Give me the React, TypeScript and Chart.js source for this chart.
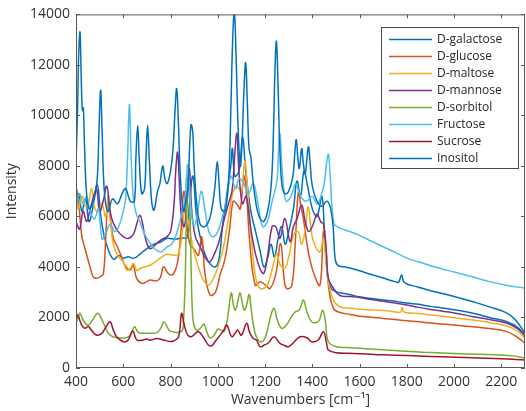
import { useEffect, useRef } from "react";
import { Chart, registerables } from "chart.js";

Chart.register(...registerables);

const seriesNames = ["D-galactose", "D-glucose", "D-maltose", "D-mannose", "D-sorbitol", "Fructose", "Sucrose", "Inositol"];
const seriesColors = ["#0072BD", "#D95319", "#EDB120", "#7E2F8E", "#77AC30", "#4DBEEE", "#A2142F", "#0072BD"];
const xTicks = [400, 600, 800, 1000, 1200, 1400, 1600, 1800, 2000, 2200];
const yTicks = [0, 2000, 4000, 6000, 8000, 10000, 12000, 14000];
const xTitle = "Wavenumbers [cm\u207B\u00B9]";
const yTitle = "Intensity";

type P = [number, number];

const galactose: P[] = [[400,6300],[412,6900],[425,6200],[440,6700],[455,5800],[470,6300],[490,7250],[505,6000],[520,5200],[540,4600],[560,4300],[580,4450],[600,4350],[620,4400],[645,4350],[670,4500],[700,4730],[730,4900],[760,5000],[784,5130],[820,5100],[850,5150],[870,5150],[880,6500],[895,7600],[910,6000],[930,5000],[950,4400],[970,4100],[990,4000],[1005,4300],[1020,5600],[1040,7000],[1055,8000],[1062,8690],[1072,7600],[1090,7800],[1105,9170],[1118,7800],[1140,6200],[1160,5400],[1180,4600],[1195,4000],[1210,4300],[1225,4900],[1240,4400],[1255,5100],[1270,5600],[1285,4900],[1300,5400],[1320,6300],[1335,7400],[1350,6800],[1365,7800],[1380,7200],[1400,6300],[1420,6000],[1440,6800],[1452,5300],[1465,3600],[1480,3150],[1500,3020],[1517,2980],[1560,2900],[1600,2820],[1650,2750],[1700,2690],[1750,2640],[1800,2570],[1850,2520],[1900,2440],[1950,2380],[2000,2310],[2080,2170],[2150,2000],[2224,1830],[2270,1600],[2300,1300]];

const glucose: P[] = [[400,7200],[410,6700],[424,5260],[438,4730],[459,4010],[473,3610],[488,3550],[502,3610],[516,3740],[526,5200],[535,6600],[545,5900],[558,5130],[572,4860],[593,4400],[607,4070],[629,3870],[642,4070],[657,3550],[678,3350],[700,3420],[713,3480],[742,3450],[758,3600],[770,4010],[791,3740],[810,3700],[830,4200],[845,5500],[856,7000],[868,5800],[882,4900],[900,4700],[918,4470],[932,5200],[945,3800],[967,2890],[990,3000],[1010,3700],[1030,4300],[1050,5500],[1065,6600],[1080,6500],[1095,6300],[1110,7600],[1122,6800],[1135,5000],[1158,3280],[1179,3410],[1200,3300],[1221,3150],[1245,3700],[1266,4930],[1280,3600],[1291,3150],[1313,3250],[1328,5000],[1341,6970],[1352,6400],[1362,5920],[1383,4600],[1404,3810],[1432,3280],[1447,5390],[1458,4700],[1468,3280],[1489,2360],[1517,2200],[1560,2120],[1600,2050],[1650,2010],[1700,1960],[1750,1920],[1800,1870],[1850,1830],[1900,1780],[1950,1740],[2000,1700],[2080,1630],[2150,1560],[2224,1440],[2270,1200],[2300,990]];

const maltose: P[] = [[400,6600],[410,6300],[425,6800],[440,6400],[452,6500],[466,7100],[480,6300],[494,6200],[510,6500],[525,6000],[537,6840],[548,5600],[558,4900],[579,4400],[600,4200],[614,3870],[630,3950],[643,4140],[658,3850],[671,3940],[690,4000],[713,4070],[735,4200],[755,4340],[784,4500],[810,4470],[832,4500],[850,5400],[862,6400],[875,5800],[890,5000],[905,4400],[918,4000],[935,3550],[960,3280],[988,3680],[1016,4470],[1040,5600],[1060,6800],[1080,7200],[1100,7000],[1108,7700],[1115,8200],[1122,7600],[1130,6600],[1143,5000],[1160,3600],[1179,3150],[1207,3250],[1230,3900],[1249,4530],[1263,4100],[1284,3940],[1300,4400],[1320,5260],[1340,5400],[1355,4900],[1370,5500],[1383,6380],[1397,5300],[1411,4860],[1432,4600],[1447,5130],[1458,4200],[1468,3410],[1489,2690],[1517,2425],[1560,2370],[1600,2330],[1650,2300],[1700,2280],[1740,2240],[1772,2210],[1780,2400],[1788,2220],[1850,2160],[1900,2100],[1950,2050],[2000,1990],[2080,1900],[2150,1800],[2224,1660],[2270,1450],[2300,1190]];

const mannose: P[] = [[400,5800],[415,5500],[430,6200],[445,5800],[460,6300],[475,6800],[487,7100],[500,6200],[515,6600],[530,7200],[542,6400],[551,5920],[565,5600],[579,5390],[600,5200],[621,5130],[643,5300],[660,5800],[671,6050],[682,5700],[692,5200],[713,4730],[742,4930],[765,5100],[784,5190],[800,5400],[815,6500],[822,7800],[830,8550],[837,7400],[846,6000],[858,5600],[870,6500],[880,7900],[890,6200],[905,5200],[925,4800],[945,4400],[965,4200],[985,4500],[1005,5000],[1025,5800],[1045,6500],[1060,7000],[1068,7900],[1080,9300],[1088,8000],[1096,7000],[1105,6500],[1120,6800],[1140,5500],[1160,4500],[1180,3900],[1195,3750],[1210,4400],[1230,5600],[1245,5600],[1263,5130],[1284,5920],[1306,5000],[1320,5600],[1335,5900],[1355,6450],[1370,5800],[1385,5400],[1404,5700],[1420,6100],[1435,5800],[1447,5700],[1458,4800],[1468,3560],[1489,3160],[1517,2870],[1560,2830],[1600,2790],[1650,2710],[1700,2640],[1750,2570],[1800,2490],[1850,2400],[1900,2320],[1950,2250],[2000,2180],[2080,2030],[2150,1920],[2224,1770],[2270,1550],[2300,1270]];

const sorbitol: P[] = [[400,1780],[410,2000],[417,2170],[430,1900],[451,1700],[470,1900],[492,2170],[510,1900],[530,1500],[544,1300],[573,1200],[610,1200],[630,1300],[647,1630],[660,1450],[671,1380],[700,1380],[742,1400],[760,1600],[772,1830],[785,1650],[798,1460],[847,1460],[855,1900],[862,3500],[868,6200],[875,7700],[882,6400],[888,3600],[895,1900],[905,1550],[916,1500],[929,1600],[942,1740],[955,1400],[967,1190],[985,1300],[1000,1540],[1015,1500],[1027,1440],[1040,1900],[1057,2970],[1066,2500],[1074,2290],[1084,2600],[1094,2980],[1103,2600],[1112,2290],[1122,2500],[1133,2910],[1143,2200],[1156,1440],[1168,1150],[1179,1040],[1195,1100],[1210,1500],[1225,2100],[1238,2360],[1252,1900],[1270,1570],[1290,1700],[1310,2000],[1325,2200],[1345,2300],[1362,2690],[1378,2200],[1397,1830],[1418,1800],[1430,1900],[1444,2290],[1456,1800],[1468,1040],[1503,843],[1550,810],[1600,780],[1650,750],[1700,720],[1750,690],[1800,660],[1850,630],[1900,610],[1950,590],[2000,570],[2100,540],[2200,510],[2250,480],[2300,395]];

const fructose: P[] = [[400,6300],[415,6900],[430,6500],[445,6800],[460,6200],[478,5900],[495,6300],[510,5100],[525,5300],[545,5700],[565,5400],[585,5700],[602,6300],[610,6700],[618,8300],[626,10440],[633,8500],[642,6800],[655,6100],[670,5800],[690,5300],[710,5000],[735,4700],[760,4600],[785,4800],[805,4900],[825,5300],[845,6000],[860,6600],[867,7500],[873,8070],[880,7200],[888,6200],[900,5600],[915,6200],[930,7000],[945,6300],[962,5400],[980,5200],[1000,5400],[1020,6000],[1040,6800],[1055,7600],[1075,7100],[1090,7500],[1110,7300],[1130,6900],[1150,7300],[1170,6500],[1190,5600],[1210,5800],[1230,6600],[1250,7400],[1257,8600],[1263,9280],[1270,8200],[1280,7000],[1290,6600],[1310,6800],[1330,7300],[1350,6800],[1375,6600],[1400,6800],[1420,6500],[1440,6900],[1452,7400],[1460,8100],[1468,8460],[1475,7700],[1483,6400],[1492,5700],[1505,5600],[1517,5540],[1560,5400],[1600,5250],[1650,5020],[1700,4800],[1750,4580],[1800,4350],[1850,4200],[1900,4050],[1950,3920],[2000,3800],[2080,3600],[2150,3420],[2220,3280],[2300,3160]];

const sucrose: P[] = [[400,2030],[407,2100],[424,1700],[438,1570],[452,1650],[465,1500],[487,1300],[509,1370],[525,1600],[544,1830],[558,1500],[572,1240],[600,1040],[620,1100],[640,1460],[657,1110],[680,1100],[700,1150],[713,1100],[742,1170],[770,1110],[795,1050],[813,1070],[834,1240],[847,2160],[858,1700],[873,1300],[890,1250],[918,1440],[940,1200],[960,910],[975,880],[988,1040],[1010,1300],[1025,1500],[1038,1700],[1059,1240],[1075,1400],[1084,1500],[1100,1300],[1122,1770],[1135,1400],[1150,1170],[1164,1110],[1179,843],[1195,900],[1215,1000],[1238,1240],[1263,975],[1280,900],[1299,843],[1320,1000],[1348,1240],[1377,1200],[1397,1040],[1425,1110],[1447,1440],[1460,1000],[1468,710],[1503,605],[1550,580],[1600,560],[1650,540],[1700,520],[1800,490],[1900,460],[2000,430],[2100,400],[2200,370],[2300,316]];

const inositol: P[] = [[400,8200],[406,10000],[411,12300],[417,13300],[422,11500],[427,10200],[431,10300],[436,8800],[444,7000],[455,6300],[470,6500],[488,7300],[496,9000],[504,11000],[511,9200],[520,7000],[535,6200],[555,6700],[575,6500],[595,6900],[610,7100],[630,6600],[647,6600],[653,8200],[661,9600],[668,8200],[678,6900],[690,7100],[696,8300],[703,9600],[710,8300],[720,6600],[730,6250],[745,7000],[755,7300],[767,8000],[776,7500],[786,7300],[800,7800],[810,8600],[818,10000],[826,11060],[833,9800],[842,7500],[855,6200],[868,6800],[875,7300],[881,8800],[887,9630],[894,9340],[900,8000],[910,6600],[925,5700],[945,5600],[965,5900],[980,6600],[988,7200],[998,8180],[1006,7200],[1015,6300],[1030,6200],[1040,6800],[1048,7800],[1056,10500],[1063,13000],[1070,14100],[1077,12500],[1085,9800],[1095,8000],[1102,8800],[1110,10800],[1118,12090],[1125,10500],[1132,8700],[1140,8350],[1148,7500],[1160,6600],[1175,6000],[1195,5800],[1215,6400],[1228,7500],[1236,9500],[1242,11800],[1248,12940],[1255,11200],[1262,8800],[1272,7200],[1285,6900],[1300,7000],[1318,7600],[1325,8400],[1332,9040],[1339,8300],[1345,7900],[1355,8690],[1362,8100],[1370,7700],[1383,8750],[1390,8200],[1400,7200],[1420,6600],[1440,6400],[1460,6600],[1475,6400],[1488,5600],[1497,4300],[1510,4050],[1540,4000],[1567,3940],[1600,3850],[1650,3700],[1700,3560],[1750,3420],[1765,3400],[1778,3680],[1790,3380],[1850,3200],[1900,3060],[1950,2950],[2000,2830],[2080,2620],[2150,2420],[2224,2170],[2260,1900],[2300,1380]];

const allSeries: P[][] = [galactose, glucose, maltose, mannose, sorbitol, fructose, sucrose, inositol];

const FONT = "'Open Sans', 'DejaVu Sans', sans-serif";

export default function App() {
  const ref = useRef<HTMLCanvasElement>(null);

  useEffect(() => {
    document.body.style.margin = "0";
    const canvas = ref.current;
    if (!canvas) return;

    const decor = {
      id: "decor",
      afterDatasetsDraw(chart: any) {
        const { ctx, chartArea: a, scales } = chart;
        const xs = scales.x;
        const ys = scales.y;
        ctx.save();
        ctx.strokeStyle = "#5a5a5a";
        ctx.lineWidth = 1;
        ctx.strokeRect(a.left + 0.5, a.top + 0.5, a.right - a.left - 1, a.bottom - a.top - 1);
        const tl = 4;
        ctx.beginPath();
        for (const v of xTicks) {
          const px = Math.round(xs.getPixelForValue(v)) + 0.5;
          ctx.moveTo(px, a.bottom);
          ctx.lineTo(px, a.bottom - tl);
          ctx.moveTo(px, a.top);
          ctx.lineTo(px, a.top + tl);
        }
        for (const v of yTicks) {
          const py = Math.round(ys.getPixelForValue(v)) + 0.5;
          ctx.moveTo(a.left, py);
          ctx.lineTo(a.left + tl, py);
          ctx.moveTo(a.right, py);
          ctx.lineTo(a.right - tl, py);
        }
        ctx.stroke();

        // legend
        const lx = 381, ly = 27, lw = 137, lh = 141;
        ctx.fillStyle = "#ffffff";
        ctx.fillRect(lx, ly, lw, lh);
        ctx.strokeStyle = "#4a4a4a";
        ctx.strokeRect(lx + 0.5, ly + 0.5, lw, lh);
        ctx.font = `12px ${FONT}`;
        ctx.textBaseline = "middle";
        ctx.textAlign = "left";
        seriesNames.forEach((name, i) => {
          const y = ly + 12.5 + i * 17;
          ctx.strokeStyle = seriesColors[i];
          ctx.lineWidth = 1.4;
          ctx.beginPath();
          ctx.moveTo(lx + 8, y);
          ctx.lineTo(lx + 51, y);
          ctx.stroke();
          ctx.fillStyle = "#262626";
          ctx.fillText(name, lx + 56, y);
        });
        ctx.restore();
      },
    };

    const chart = new Chart(canvas, {
      type: "line",
      data: {
        datasets: allSeries.map((s, i) => ({
          label: seriesNames[i],
          data: s.map(([x, y]) => ({ x, y })),
          borderColor: seriesColors[i],
          backgroundColor: seriesColors[i],
          borderWidth: 1.5,
          pointRadius: 0,
          fill: false,
          tension: 0.4,
          order: allSeries.length - 1 - i,
        })),
      },
      options: {
        animation: false,
        responsive: false,
        devicePixelRatio: 1,
        layout: { padding: { top: 14, right: 1, left: 0, bottom: 0 } },
        plugins: { legend: { display: false }, tooltip: { enabled: false } },
        scales: {
          x: {
            type: "linear",
            min: 400,
            max: 2300,
            afterBuildTicks: (s: any) => {
              s.ticks = xTicks.map((v) => ({ value: v }));
            },
            afterFit: (s: any) => {
              s.height = 43;
            },
            grid: { display: false, drawTicks: false },
            border: { display: false },
            ticks: { color: "#333333", font: { size: 14, family: FONT }, padding: 6, maxRotation: 0, autoSkip: false, callback: (v: any) => String(v) },
            title: { display: true, text: xTitle, color: "#333333", font: { size: 14, family: FONT }, padding: { top: 0, bottom: 3 } },
          },
          y: {
            type: "linear",
            min: 0,
            max: 14000,
            afterBuildTicks: (s: any) => {
              s.ticks = yTicks.map((v) => ({ value: v }));
            },
            afterFit: (s: any) => {
              s.width = 76;
            },
            grid: { display: false, drawTicks: false },
            border: { display: false },
            ticks: { color: "#333333", font: { size: 14, family: FONT }, padding: 6, autoSkip: false, callback: (v: any) => String(v) },
            title: { display: true, text: yTitle, color: "#333333", font: { size: 14, family: FONT }, padding: { top: 4, bottom: 4 } },
          },
        },
      },
      plugins: [decor],
    });

    return () => chart.destroy();
  }, []);

  return (
    <div style={{ width: 526, height: 411 }}>
      <canvas ref={ref} width={526} height={411} />
    </div>
  );
}
